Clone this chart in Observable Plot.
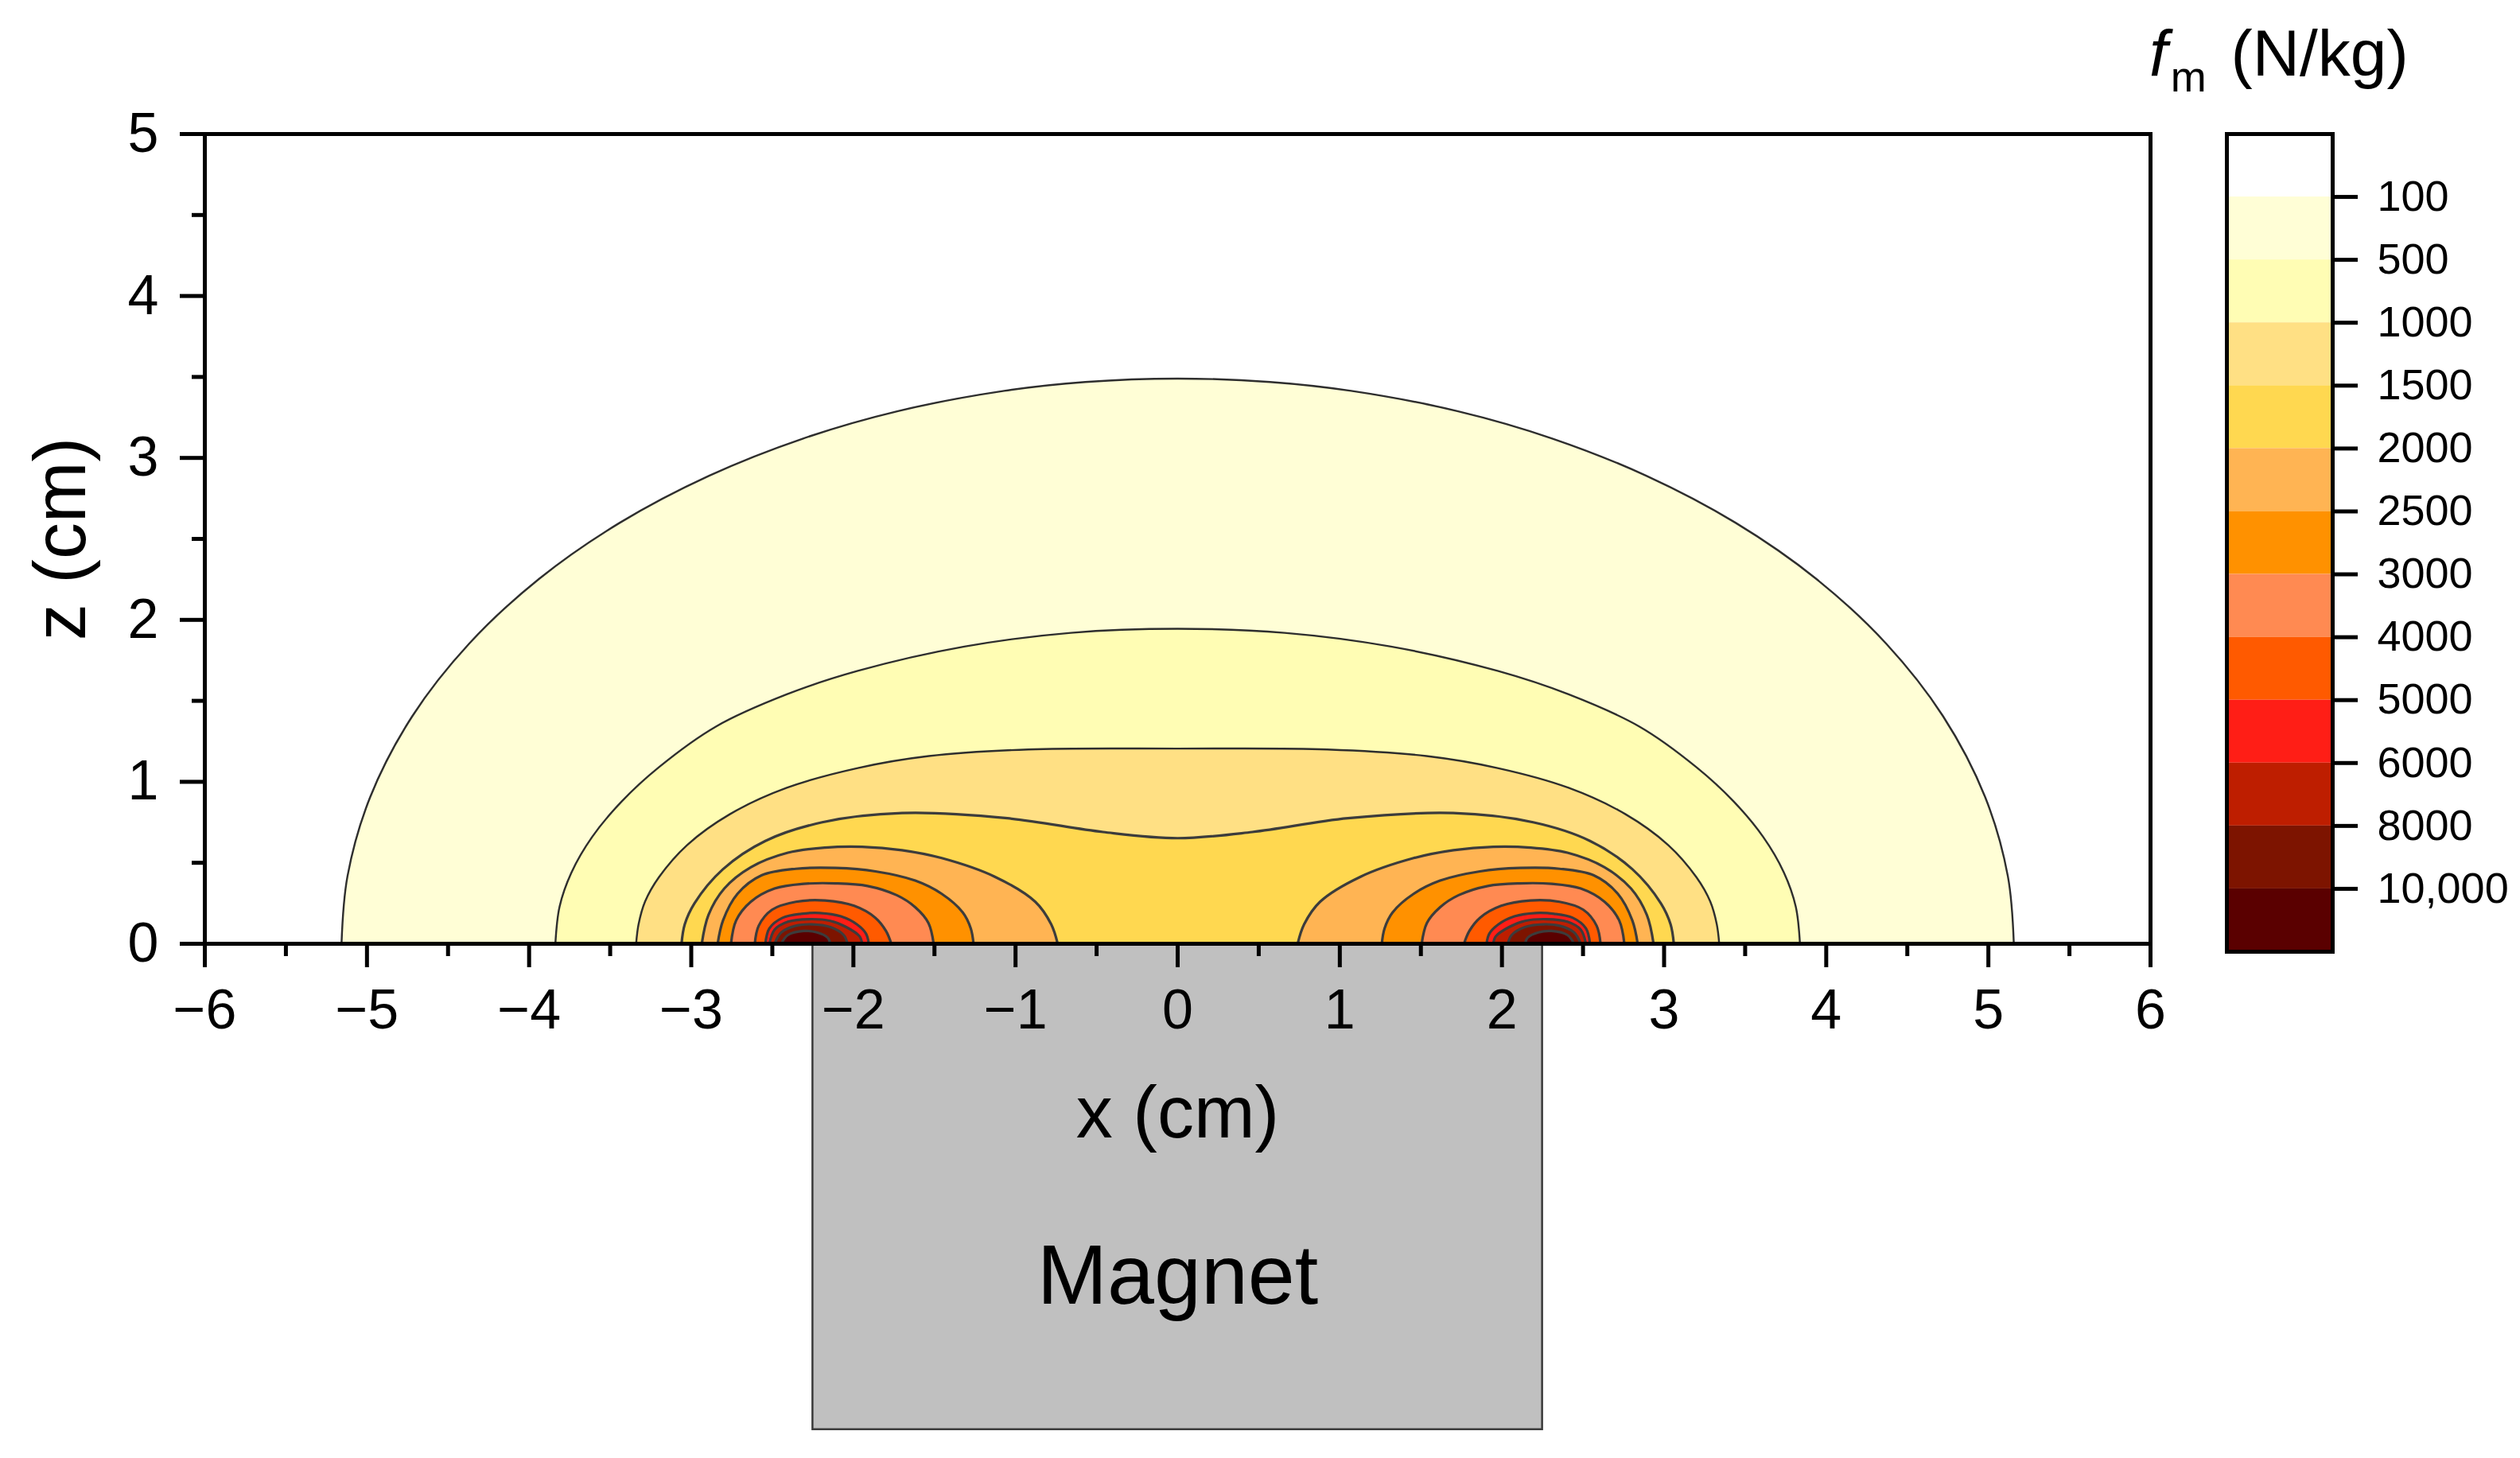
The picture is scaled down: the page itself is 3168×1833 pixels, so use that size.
<!DOCTYPE html>
<html><head><meta charset="utf-8">
<script src="https://cdn.jsdelivr.net/npm/d3@7"></script>
<script src="https://cdn.jsdelivr.net/npm/@observablehq/plot@0.6"></script>
<style>
html,body{margin:0;padding:0;background:#fff;}
body{width:3168px;height:1833px;position:relative;overflow:hidden;font-family:"Liberation Sans",Arial,sans-serif;}
#main{position:absolute;left:0;top:0;}
#legend{position:absolute;left:2700px;top:0;}
#title{position:absolute;left:2702px;top:26px;font-size:82px;line-height:82px;white-space:nowrap;color:#000;}
#title i{font-style:italic;}
#title .sub{font-size:54px;position:relative;top:20px;margin-left:4px;margin-right:8px;}
</style></head><body>
<div id="main"></div><div id="legend"></div>
<div id="title"><i>f</i><span class="sub">m</span> (N/kg)</div>
<script>
// ---- data ----
const levels = [100, 500, 1000, 1500, 2000, 2500, 3000, 4000, 5000, 6000, 8000, 10000];
const levelLabels = ["100", "500", "1000", "1500", "2000", "2500", "3000", "4000", "5000", "6000", "8000", "10,000"];
const bandColors = ["#ffffff", "#fffed6", "#fffdb4", "#ffe084", "#ffd850", "#ffb453", "#ff9100", "#ff8a52", "#ff5a00", "#ff1e16", "#be1e00", "#7d1400", "#5a0000"];
const xTicks = [-6, -5, -4, -3, -2, -1, 0, 1, 2, 3, 4, 5, 6];
const xMinorTicks = [-5.5, -4.5, -3.5, -2.5, -1.5, -0.5, 0.5, 1.5, 2.5, 3.5, 4.5, 5.5];
const zTicks = [0, 1, 2, 3, 4, 5];
const zMinorTicks = [0.5, 1.5, 2.5, 3.5, 4.5];
const magnet = [{x1: -2.25, x2: 2.25, z1: -3, z2: 0}];

// contour lines, [x (cm), z (cm)]
const c100 = [[-5.157,0],[-5.12,0.418],[-4.98,0.906],[-4.72,1.406],[-4.37,1.853],[-3.94,2.252],[-3.44,2.6],[-2.89,2.89],[-2.31,3.12],[-1.73,3.288],[-1.07,3.414],[-0.57,3.469],[0,3.49],[0.57,3.469],[1.07,3.414],[1.73,3.288],[2.31,3.12],[2.89,2.89],[3.44,2.6],[3.94,2.252],[4.37,1.853],[4.72,1.406],[4.98,0.906],[5.12,0.418],[5.157,0]];
const c500 = [[-3.838,0],[-3.812,0.23],[-3.739,0.44],[-3.611,0.66],[-3.428,0.88],[-3.2,1.09],[-2.85,1.34],[-2.411,1.54],[-1.973,1.685],[-1.316,1.835],[-0.659,1.92],[0,1.945],[0.659,1.92],[1.316,1.835],[1.973,1.685],[2.411,1.54],[2.85,1.34],[3.2,1.09],[3.428,0.88],[3.611,0.66],[3.739,0.44],[3.812,0.23],[3.838,0]];
const c1000 = [[-3.34,0],[-3.325,0.12],[-3.285,0.26],[-3.2,0.41],[-3.025,0.61],[-2.762,0.8],[-2.411,0.963],[-1.973,1.085],[-1.535,1.159],[-0.922,1.2],[0,1.205],[0.922,1.2],[1.535,1.159],[1.973,1.085],[2.411,0.963],[2.762,0.8],[3.025,0.61],[3.2,0.41],[3.285,0.26],[3.325,0.12],[3.34,0]];
const c1500 = [[-3.06,0],[-3.04,0.12],[-2.98,0.25],[-2.805,0.46],[-2.543,0.635],[-2.192,0.75],[-1.7,0.807],[-1.05,0.775],[-0.46,0.69],[0,0.652],[0.46,0.69],[1.05,0.775],[1.7,0.807],[2.192,0.75],[2.543,0.635],[2.805,0.46],[2.98,0.25],[3.04,0.12],[3.06,0]];
const c2000L = [[-2.935,0],[-2.894,0.177],[-2.796,0.341],[-2.633,0.472],[-2.404,0.562],[-2.175,0.594],[-1.946,0.599],[-1.701,0.578],[-1.455,0.529],[-1.128,0.414],[-0.878,0.259],[-0.78,0.12],[-0.74,0]];
const c2000R = [[0.74,0],[0.78,0.12],[0.878,0.259],[1.128,0.414],[1.455,0.529],[1.701,0.578],[1.946,0.599],[2.175,0.594],[2.404,0.562],[2.633,0.472],[2.796,0.341],[2.894,0.177],[2.935,0]];
const c2500L = [[-2.837,0],[-2.804,0.144],[-2.715,0.308],[-2.567,0.422],[-2.355,0.463],[-2.11,0.468],[-1.864,0.447],[-1.619,0.39],[-1.455,0.308],[-1.325,0.193],[-1.276,0.095],[-1.259,0]];
const c2500R = [[1.259,0],[1.276,0.095],[1.325,0.193],[1.455,0.308],[1.619,0.39],[1.864,0.447],[2.11,0.468],[2.355,0.463],[2.567,0.422],[2.715,0.308],[2.804,0.144],[2.837,0]];
const c3000L = [[-2.755,0],[-2.723,0.144],[-2.633,0.259],[-2.486,0.341],[-2.306,0.37],[-2.11,0.373],[-1.913,0.357],[-1.733,0.3],[-1.619,0.226],[-1.537,0.128],[-1.505,0]];
const c3000R = [[1.505,0],[1.537,0.128],[1.619,0.226],[1.733,0.3],[1.913,0.357],[2.11,0.373],[2.306,0.37],[2.486,0.341],[2.633,0.259],[2.723,0.144],[2.755,0]];
const c4000L = [[-2.608,0],[-2.584,0.111],[-2.502,0.21],[-2.355,0.259],[-2.175,0.267],[-1.995,0.234],[-1.864,0.16],[-1.799,0.079],[-1.766,0]];
const c4000R = [[1.766,0],[1.799,0.079],[1.864,0.16],[1.995,0.234],[2.175,0.267],[2.355,0.259],[2.502,0.21],[2.584,0.111],[2.608,0]];
const c5000L = [[-2.543,0],[-2.518,0.095],[-2.437,0.16],[-2.322,0.185],[-2.208,0.19],[-2.077,0.169],[-1.979,0.12],[-1.922,0.062],[-1.905,0]];
const c5000R = [[1.905,0],[1.922,0.062],[1.979,0.12],[2.077,0.169],[2.208,0.19],[2.322,0.185],[2.437,0.16],[2.518,0.095],[2.543,0]];
const c6000L = [[-2.518,0],[-2.486,0.087],[-2.404,0.136],[-2.273,0.152],[-2.142,0.141],[-2.044,0.103],[-1.962,0.046],[-1.946,0]];
const c6000R = [[1.946,0],[1.962,0.046],[2.044,0.103],[2.142,0.141],[2.273,0.152],[2.404,0.136],[2.486,0.087],[2.518,0]];
const c8000L = [[-2.486,0],[-2.445,0.07],[-2.355,0.111],[-2.257,0.12],[-2.142,0.103],[-2.06,0.054],[-2.036,0]];
const c8000R = [[2.036,0],[2.06,0.054],[2.142,0.103],[2.257,0.12],[2.355,0.111],[2.445,0.07],[2.486,0]];
const c10000L = [[-2.445,0],[-2.404,0.054],[-2.306,0.079],[-2.224,0.07],[-2.159,0.038],[-2.142,0]];
const c10000R = [[2.142,0],[2.159,0.038],[2.224,0.07],[2.306,0.079],[2.404,0.054],[2.445,0]];

// ---- build tables ----
const contours = [
  {id: "100", level: 100, pts: c100},
  {id: "500", level: 500, pts: c500},
  {id: "1000", level: 1000, pts: c1000},
  {id: "1500", level: 1500, pts: c1500},
  {id: "2000L", level: 2000, pts: c2000L}, {id: "2000R", level: 2000, pts: c2000R},
  {id: "2500L", level: 2500, pts: c2500L}, {id: "2500R", level: 2500, pts: c2500R},
  {id: "3000L", level: 3000, pts: c3000L}, {id: "3000R", level: 3000, pts: c3000R},
  {id: "4000L", level: 4000, pts: c4000L}, {id: "4000R", level: 4000, pts: c4000R},
  {id: "5000L", level: 5000, pts: c5000L}, {id: "5000R", level: 5000, pts: c5000R},
  {id: "6000L", level: 6000, pts: c6000L}, {id: "6000R", level: 6000, pts: c6000R},
  {id: "8000L", level: 8000, pts: c8000L}, {id: "8000R", level: 8000, pts: c8000R},
  {id: "10000L", level: 10000, pts: c10000L}, {id: "10000R", level: 10000, pts: c10000R}
];
const rows = contours.flatMap(c => c.pts.map(([x, z]) => ({id: c.id, level: c.level, x, z, base: 0})));
const outerRows = rows.filter(d => d.level <= 1000);
const innerRows = rows.filter(d => d.level > 1000);

const font = "'Liberation Sans', Arial, Helvetica, sans-serif";

const main = Plot.plot({
  width: 2708, height: 1833,
  marginLeft: 257, marginRight: 5, marginTop: 168, marginBottom: 647,
  x: {domain: [-6, 6], axis: null},
  y: {domain: [0, 5], axis: null},
  color: {type: "threshold", domain: levels, range: bandColors},
  style: {fontFamily: font, color: "#000", background: "transparent", overflow: "visible"},
  marks: [
    Plot.rect(magnet, {x1: "x1", x2: "x2", y1: "z1", y2: "z2", fill: "#c0c0c0", stroke: "#3a3a3a", strokeWidth: 2.5}),
    Plot.area(rows, {x1: "x", y1: "base", y2: "z", z: "id", fill: "level", curve: "catmull-rom"}),
    Plot.line(outerRows, {x: "x", y: "z", z: "id", stroke: "#2e2e2e", strokeWidth: 2.4, curve: "catmull-rom"}),
    Plot.line(innerRows, {x: "x", y: "z", z: "id", stroke: "#3c3c3c", strokeWidth: 3.2, curve: "catmull-rom"}),
    Plot.frame({stroke: "#000", strokeWidth: 5}),
    Plot.axisX({ticks: xTicks, tickSize: 30, tickPadding: 27, fontSize: 70, strokeWidth: 5, label: null}),
    Plot.axisX({ticks: xMinorTicks, tickSize: 16, tickFormat: () => "", strokeWidth: 5, label: null}),
    Plot.axisY({ticks: zTicks, tickSize: 31, tickPadding: 27, fontSize: 70, strokeWidth: 5, tickFormat: d3.format("d"), label: null}),
    Plot.axisY({ticks: zMinorTicks, tickSize: 16, tickFormat: () => "", strokeWidth: 5, label: null}),
    Plot.text(["x (cm)"], {frameAnchor: "bottom", dy: 243, fontSize: 92, text: d => d}),
    Plot.text(["Magnet"], {frameAnchor: "bottom", dy: 452, fontSize: 106, text: d => d}),
    Plot.text(["z (cm)"], {frameAnchor: "left", dx: -180, rotate: -90, textAnchor: "middle", lineAnchor: "middle", fontSize: 92, text: d => d})
  ]
});
document.getElementById("main").appendChild(main);

const bands = bandColors.map((c, i) => ({i, c}));
const legend = Plot.plot({
  width: 468, height: 1250,
  marginLeft: 99, marginRight: 236, marginTop: 168, marginBottom: 54,
  x: {domain: [0, 1], axis: null},
  y: {domain: [0, 13], reverse: true, axis: null},
  style: {fontFamily: font, color: "#000", background: "transparent", overflow: "visible"},
  marks: [
    Plot.rect(bands, {x1: 0, x2: 1, y1: "i", y2: d => d.i + 1, fill: "c"}),
    Plot.frame({stroke: "#000", strokeWidth: 5}),
    Plot.axisY({anchor: "right", ticks: d3.range(1, 13), tickFormat: i => levelLabels[i - 1], tickSize: 31, tickPadding: 25, fontSize: 54, strokeWidth: 5, label: null})
  ]
});
document.getElementById("legend").appendChild(legend);
</script>
</body></html>
